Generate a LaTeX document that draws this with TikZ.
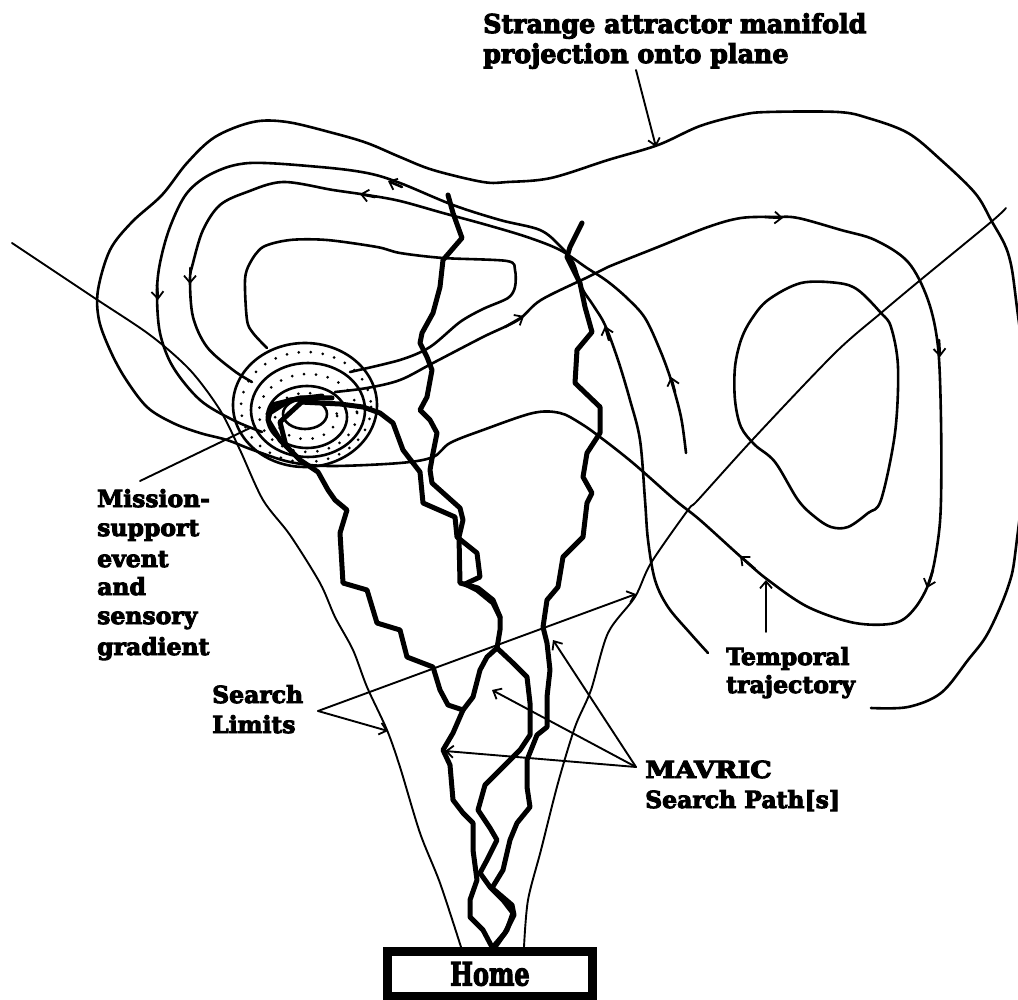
\documentclass[tikz,border=0pt]{standalone}
\usepackage{fontspec}
\setmainfont{DejaVu Serif}[BoldFeatures={FakeBold=4}]
\usepackage{graphicx}
\usetikzlibrary{arrows.meta}
\begin{document}
\begin{tikzpicture}[x=1pt,y=-1pt,
  attr/.style={line width=2.6pt, line join=round, line cap=round},
  thinl/.style={line width=1.9pt, line join=round, line cap=round},
  thickp/.style={line width=5pt, line join=round, line cap=round},
  barb/.style={-{Straight Barb[length=7pt,width=12pt,line width=1.8pt]}},
  dotring/.style={line width=3pt, line cap=round, dash pattern=on 0pt off 12pt},
  lbl/.style={anchor=base west, inner sep=0pt, font=\fontsize{23.5}{30}\selectfont\bfseries},
  ttl/.style={anchor=base west, inner sep=0pt, font=\fontsize{26}{30}\selectfont\bfseries},
]
\useasboundingbox (0,0) rectangle (1018,1000);
\fill[white] (0,0) rectangle (1018,1000);
\begin{scope}
\clip (0,0) rectangle (1018,1000);

% ---------- long outer trajectory ----------
\draw[attr] plot[smooth, tension=0.55] coordinates {
 (871,708) (908,707) (941,693) (968,660) (988,633) (1008,587) (1016,547) (1028,420)
 (1016,300) (1008,253) (991,220) (975,193) (941,160) (908,133) (868,118) (838,112)
 (768,112) (741,115) (700,126) (658,145) (608,160) (551,178) (508,182) (483,182)
 (433,170) (400,157) (367,143) (333,133) (287,122) (253,122) (215,137) (187,163)
 (162,195) (132,222) (110,250) (98,290) (99,320) (110,350) (125,378)
 (147,407) (173,423) (200,433) (227,440) (253,450) (290,462) (330,466) (400,463)
 (433,457) (450,443) (483,430) (533,413) (560,413) (580,423) (600,437) (633,463)
 (675,500) (700,520) (741,557) (768,580) (808,607) (855,623) (895,623) (915,608)
 (930,580) (938,540) (941,500) (941,420) (938,347) (928,300) (908,262) (875,240)
 (841,230) (798,218) (775,217) (741,218) (708,227) (658,247) (608,267) (588,277)
 (541,300) (518,320) (483,337) (433,363) (400,380) (367,388) (335,392)};

% ---------- upper outer loop ----------
\draw[attr] plot[smooth, tension=0.55] coordinates {
 (708,653) (690,633) (668,607) (655,580) (648,540) (645,500) (640,440) (630,400)
 (618,360) (605,325) (593,305) (582,288) (573,262) (560,246) (540,230) (500,220)
 (453,205) (400,183) (367,173) (320,167) (250,163) (213,173) (187,193) (170,227)
 (160,263) (157,293) (160,333) (173,367) (200,400) (233,420) (262,432)};

% ---------- upper inner loop ----------
\draw[attr] plot[smooth, tension=0.55] coordinates {
 (686,453) (681,417) (671,380) (660,350) (645,318) (627,298) (607,281) (587,268)
 (560,250) (527,237) (487,225) (443,213) (400,201) (367,195) (333,190) (283,182)
 (247,192) (220,205) (203,230) (193,263) (190,280) (193,317) (207,347) (233,370)
 (252,382)};

% ---------- innermost left loop ----------
\draw[attr] plot[smooth, tension=0.5] coordinates {
 (350,372) (400,360) (430,347) (460,322) (483,309) (508,298) (515,287) (515,270)
 (507,261) (443,258) (400,253) (377,247) (327,240) (290,240) (263,247) (250,263)
 (245,280) (247,320) (253,333) (267,348)};

% ---------- right inner loop ----------
\draw[attr] plot[smooth cycle, tension=0.55] coordinates {
 (881,313) (858,290) (838,283) (801,283) (768,300) (751,320) (741,340) (735,367)
 (735,400) (741,427) (755,445) (775,462) (798,500) (815,517) (831,527) (848,527)
 (868,513) (881,500) (895,433) (898,367) (891,327)};

% ---------- direction arrowheads ----------
\draw[attr,barb] (402,187) -- (388,181);
\draw[attr,barb] (375,197) -- (360,194);
\draw[attr,barb] (157,285) -- (158,300);
\draw[attr,barb] (190,268) -- (190,284);
\draw[attr,barb] (505,327) -- (524,316);
\draw[attr,barb] (765,217) -- (783,218);
\draw[attr,barb] (939,340) -- (940,357);
\draw[attr,barb] (933,570) -- (927,588);
\draw[attr,barb] (755,569) -- (740,556);
\draw[attr,barb] (609,340) -- (605,326);
\draw[attr,barb] (675,392) -- (671,377);

% ---------- mission-support event ----------
\draw[attr] (305,405) ellipse [x radius=72, y radius=62];
\draw[attr] (308,410) ellipse [x radius=57, y radius=47];
\draw[attr] (307,417) ellipse [x radius=40, y radius=31];
\draw[attr] (305,414) ellipse [x radius=22, y radius=15];
\draw[dotring] (306,407) ellipse [x radius=65, y radius=55];
\draw[dotring] (308,413) ellipse [x radius=49, y radius=39];
\draw[dotring] (306,416) ellipse [x radius=31, y radius=23];
\draw[thickp] (322,396) -- (290,400) -- (268,414);
\draw[thickp] (305,399) -- (280,422) -- (286,446);

% ---------- search limits ----------
\draw[thinl] plot[smooth, tension=0.5] coordinates {
 (12,243) (93,297) (150,335) (190,370) (220,410) (240,450) (263,500) (290,535)
 (320,583) (335,617) (353,650) (367,687) (387,730) (400,767) (420,833) (440,883) (461,947)};
\draw[thinl] plot[smooth, tension=0.5] coordinates {
 (1006,208) (991,222) (918,282) (881,313) (835,353) (755,437) (698,500) (688,510)
 (651,563) (635,597) (608,633) (591,690) (575,727) (558,783) (541,850) (528,900) (524,947)};

% ---------- MAVRIC search paths ----------
\draw[thickp] (332,398) -- (300,398) -- (272,405) -- (268,420) -- (280,440) -- (300,460)
 -- (318,472) -- (328,490) -- (335,500) -- (347,510) -- (340,533) -- (343,583) -- (367,590)
 -- (377,623) -- (400,630) -- (407,657) -- (433,667) -- (440,690) -- (448,705) -- (463,710)
 -- (453,733) -- (443,750) -- (450,765) -- (453,800) -- (463,813) -- (473,823) -- (473,850)
 -- (477,880) -- (470,900) -- (470,917) -- (483,930) -- (492,947);
\draw[thickp] (300,402) -- (340,404) -- (363,407) -- (380,413) -- (393,423) -- (403,450)
 -- (413,463) -- (420,472) -- (423,503) -- (455,517) -- (457,537) -- (477,553) -- (480,577)
 -- (465,584) -- (477,590) -- (493,603) -- (500,617) -- (500,630) -- (497,648) -- (487,657)
 -- (480,670) -- (473,697) -- (463,710);
\draw[thickp] (448,195) -- (453,213) -- (462,238) -- (443,260) -- (440,287) -- (433,313)
 -- (422,333) -- (420,343) -- (427,357) -- (432,370) -- (427,397) -- (420,410) -- (430,420)
 -- (437,433) -- (433,453) -- (430,470) -- (432,483) -- (460,508) -- (463,520) -- (459,537)
 -- (460,583) -- (478,588) -- (493,600) -- (500,617);
\draw[thickp] (497,648) -- (513,663) -- (527,677) -- (530,703) -- (530,735) -- (520,750)
 -- (503,767) -- (485,785) -- (478,810) -- (490,828) -- (497,840) -- (487,860) -- (480,873)
 -- (490,887) -- (503,900) -- (513,913) -- (507,930) -- (495,947);
\draw[thickp] (582,223) -- (570,247) -- (567,257) -- (580,283) -- (585,307) -- (592,332)
 -- (577,350) -- (575,383) -- (600,407) -- (600,433) -- (587,453) -- (583,477) -- (592,493)
 -- (587,503) -- (583,537) -- (563,557) -- (558,587) -- (547,600) -- (543,627) -- (547,643)
 -- (550,670) -- (547,697) -- (547,727) -- (537,735) -- (527,760) -- (527,787) -- (530,807)
 -- (517,823) -- (510,840) -- (503,870) -- (492,888) -- (512,905) -- (514,915) -- (505,933)
 -- (493,947);
\end{scope}

% ---------- labels ----------
\node[ttl] (title1) at (483,33) {\scalebox{0.975}[1]{Strange attractor manifold}};
\node[ttl] (title2) at (483,63) {\scalebox{0.975}[1]{projection onto plane}};
\node[lbl] (mis1) at (97,507) {Mission-};
\node[lbl] (mis2) at (97,536) {support};
\node[lbl] (mis3) at (97,567) {event};
\node[lbl] (mis4) at (97,595) {and};
\node[lbl] (mis5) at (97,624) {sensory};
\node[lbl] (mis6) at (97,655) {gradient};
\node[lbl] (sl1) at (212,703) {Search};
\node[lbl] (sl2) at (212,733) {Limits};
\node[lbl] (tt1) at (726,665) {Temporal};
\node[lbl] (tt2) at (726,693) {trajectory};
\node[lbl] (mv1) at (645,778) {\scalebox{1.15}[1]{MAVRIC}};
\node[lbl] (mv2) at (645,808) {Search Path[s]};
\node[draw, line width=9pt, minimum width=205pt, minimum height=45pt, inner sep=0pt,
      font=\fontsize{32}{34}\selectfont\bfseries] (home) at (490,974) {\scalebox{0.75}[1]{Home}};

% ---------- pointers ----------
\coordinate (tA) at (636,70);
\coordinate (tB) at (656,147);
\draw[thinl,barb] (tA) -- (tB);
\coordinate (mA) at (140,481);
\coordinate (mB) at (250,428);
\draw[thinl] (mA) -- (mB);
\coordinate (sA) at (318,711);
\coordinate (sB) at (636,594);
\coordinate (sC) at (388,731);
\draw[thinl,barb] (sA) -- (sB);
\draw[thinl,barb] (sA) -- (sC);
\coordinate (tpA) at (766,632);
\coordinate (tpB) at (766,580);
\draw[thinl,barb] (tpA) -- (tpB);
\coordinate (vA) at (636,767);
\coordinate (vB) at (553,640);
\coordinate (vC) at (492,690);
\coordinate (vD) at (445,751);
\draw[thinl,barb] (vA) -- (vB);
\draw[thinl,barb] (vA) -- (vC);
\draw[thinl,barb] (vA) -- (vD);
\end{tikzpicture}
\end{document}
